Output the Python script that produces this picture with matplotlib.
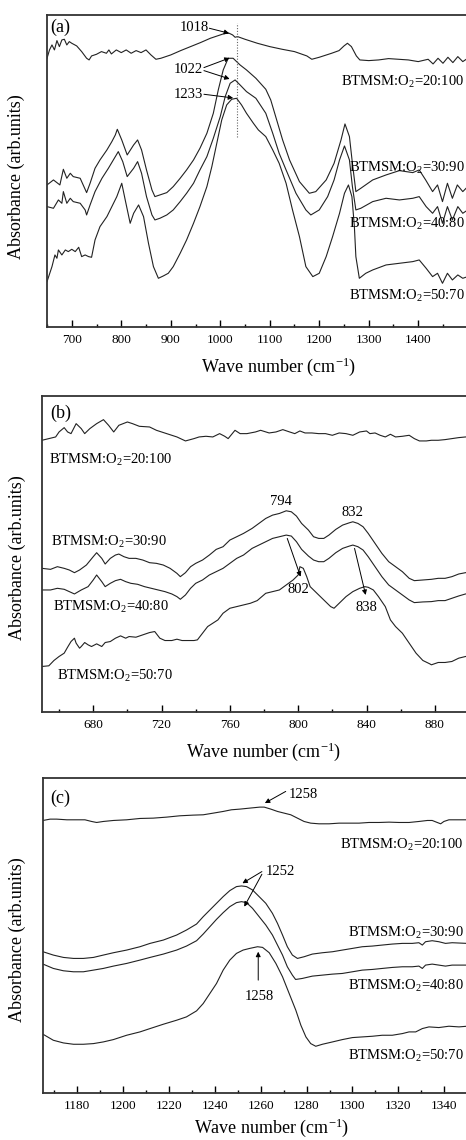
import matplotlib
matplotlib.use("Agg")
import matplotlib.pyplot as plt
from matplotlib.ticker import MultipleLocator

plt.rcParams['font.family'] = ['Liberation Serif', 'DejaVu Serif']
plt.rcParams['mathtext.fontset'] = 'custom'
plt.rcParams['mathtext.rm'] = 'Liberation Serif'
plt.rcParams['mathtext.it'] = 'Liberation Serif:italic'

ratios = ['20:100', '30:90', '40:80', '50:70']

# ---- panel (a): full range, arbitrary absorbance units ----
a_x_20 = [650, 655, 660, 665, 670, 675, 680, 685, 690, 695, 700, 710, 720, 730, 735, 740,
          750, 760, 770, 775, 780, 790, 800, 810, 820, 830, 840, 850, 860, 870, 880, 900,
          920, 940, 960, 980, 1000, 1010, 1018, 1025, 1030, 1035, 1050, 1075, 1100, 1125,
          1150, 1175, 1185, 1200, 1225, 1240, 1250, 1257, 1265, 1275, 1282, 1300, 1320,
          1340, 1360, 1380, 1400, 1420, 1430, 1440, 1450, 1460, 1470, 1480, 1490, 1500]
a_y_20 = [806, 831, 846, 831, 859, 841, 861, 863, 846, 856, 851, 843, 826, 806, 801, 813,
          818, 826, 821, 831, 819, 831, 823, 831, 821, 829, 823, 831, 816, 803, 806, 816,
          829, 841, 853, 866, 876, 881, 881, 876, 869, 871, 863, 851, 841, 833,
          826, 813, 803, 809, 821, 829, 843, 851, 841, 813, 801, 799, 801,
          805, 803, 801, 796, 803, 789, 806, 791, 809, 793, 811, 796, 806]

a_x_30 = [650, 663, 676, 683, 690, 697, 703, 717, 730, 737, 747, 757, 771, 781, 788, 792,
          801, 812, 825, 833, 841, 851, 862, 868, 878, 892, 905, 919, 932, 946, 959, 973,
          986, 996, 1006, 1016, 1026, 1040, 1053, 1072, 1092, 1102, 1112, 1126, 1140, 1160,
          1180, 1193, 1214, 1230, 1244, 1252, 1261, 1267, 1274, 1284, 1308, 1335, 1362,
          1389, 1402, 1415, 1429, 1439, 1449, 1459, 1469, 1479, 1490, 1500]
a_y_30 = [426, 441, 426, 473, 446, 461, 451, 446, 403, 431, 476, 501, 531, 556, 576, 593,
          561, 516, 546, 561, 531, 471, 411, 391, 396, 403, 421, 446, 471, 501, 536, 581,
          641, 711, 771, 806, 806, 786, 771, 746, 713, 681, 631, 561, 501, 436,
          401, 406, 441, 491, 561, 609, 571, 491, 406, 416, 441, 456, 469,
          463, 471, 441, 406, 426, 376, 431, 386, 426, 406, 421]

a_x_40 = [650, 663, 673, 680, 683, 690, 697, 703, 717, 727, 730, 737, 747, 761, 774, 788,
          794, 803, 812, 825, 833, 841, 851, 862, 868, 878, 892, 905, 919, 932, 946, 959,
          973, 986, 1000, 1010, 1020, 1030, 1040, 1053, 1072, 1092, 1106, 1119, 1133, 1153,
          1173, 1183, 1200, 1217, 1230, 1241, 1251, 1261, 1267, 1274, 1284, 1308, 1335,
          1362, 1389, 1402, 1416, 1429, 1439, 1449, 1459, 1469, 1480, 1490, 1500]
a_y_40 = [361, 356, 381, 371, 406, 371, 386, 376, 371, 351, 336, 366, 406, 446, 476, 511,
          526, 496, 451, 476, 496, 461, 391, 336, 321, 326, 336, 351, 376, 401, 431, 471,
          511, 566, 631, 691, 731, 741, 726, 706, 686, 641, 581, 521, 471, 401,
          351, 336, 351, 391, 441, 501, 543, 501, 421, 351, 356, 376, 386,
          381, 386, 391, 361, 341, 361, 311, 361, 321, 361, 341, 351]

a_x_50 = [650, 660, 666, 670, 673, 680, 687, 693, 700, 707, 714, 720, 727, 734, 740, 747,
          757, 771, 781, 791, 801, 808, 818, 825, 835, 845, 855, 865, 875, 885, 895, 905,
          919, 932, 946, 959, 973, 983, 993, 1003, 1013, 1023, 1033, 1043, 1053, 1067,
          1077, 1092, 1106, 1119, 1133, 1146, 1160, 1173, 1187, 1200, 1214, 1227, 1241,
          1251, 1259, 1266, 1271, 1274, 1281, 1294, 1308, 1335, 1362, 1389, 1402, 1416,
          1429, 1439, 1449, 1459, 1469, 1480, 1490, 1500]
a_y_50 = [136, 181, 216, 206, 231, 216, 231, 226, 233, 226, 239, 211, 216, 211, 209, 261,
          301, 331, 361, 391, 431, 381, 311, 341, 366, 331, 251, 181, 146, 153, 161, 181,
          221, 261, 311, 361, 421, 481, 551, 621, 666, 683, 686, 666, 641, 611,
          591, 571, 531, 491, 431, 351, 271, 181, 151, 161, 211, 271, 341,
          401, 426, 391, 301, 211, 146, 161, 171, 186, 191, 196, 201, 176,
          151, 161, 131, 161, 141, 156, 146, 151]

# ---- panel (b): 650-900 ----
b_x_20 = [650, 654, 658, 660, 663, 665, 667, 670, 673, 675, 678, 682, 686, 689, 692, 695,
          700, 703, 707, 713, 717, 723, 729, 734, 739, 742, 746, 750, 754, 757, 759, 763,
          766, 770, 775, 778, 783, 787, 791, 795, 798, 801, 804, 808, 812, 816, 820, 824,
          828, 832, 836, 840, 842, 845, 848, 851, 854, 857, 861, 865, 868, 871, 875, 878,
          882, 886, 890, 894, 898, 900]
b_y_20 = [817, 822, 827, 842, 855, 842, 837, 867, 852, 837, 852, 867, 879, 862, 842, 862,
          872, 867, 859, 857, 847, 837, 827, 815, 822, 827, 829, 827, 837, 829, 822, 847,
          837, 837, 842, 847, 839, 842, 849, 842, 837, 845, 839, 839, 837, 837, 832, 839,
          837, 832, 842, 845, 837, 839, 832, 827, 835, 827, 829, 832, 822, 815, 815, 817,
          817, 819, 822, 825, 827, 827]

b_x_30 = [650, 655, 659, 663, 666, 669, 672, 676, 680, 682, 685, 687, 690, 693, 695, 698,
          701, 705, 709, 713, 717, 721, 725, 729, 731, 734, 737, 740, 744, 748, 752, 756,
          760, 764, 768, 773, 777, 781, 785, 789, 793, 796, 799, 802, 806, 809, 812, 815,
          818, 822, 826, 830, 832, 835, 838, 841, 845, 849, 853, 857, 861, 865, 868, 873,
          878, 882, 886, 890, 894, 898, 900]
b_y_30 = [432, 429, 437, 432, 427, 419, 427, 442, 467, 479, 462, 445, 462, 472, 475, 467,
          462, 462, 457, 449, 447, 442, 432, 417, 407, 419, 437, 447, 457, 472, 489, 497,
          517, 527, 537, 552, 567, 582, 592, 597, 605, 602, 589, 567, 547, 527, 522, 522,
          532, 549, 562, 569, 572, 567, 557, 537, 507, 477, 452, 437, 422, 402, 395, 397,
          399, 402, 402, 407, 415, 419, 420]

b_x_40 = [650, 655, 659, 663, 666, 669, 673, 677, 680, 682, 685, 687, 690, 693, 696, 699,
          702, 706, 710, 714, 718, 722, 726, 729, 731, 734, 737, 740, 744, 748, 752, 756,
          760, 764, 768, 773, 777, 781, 785, 789, 793, 796, 799, 802, 806, 809, 812, 815,
          818, 822, 826, 830, 832, 835, 838, 841, 845, 849, 853, 857, 861, 865, 868, 873,
          878, 882, 886, 890, 894, 898, 900]
b_y_40 = [367, 367, 372, 369, 362, 355, 367, 377, 397, 412, 392, 377, 387, 395, 399, 392,
          387, 384, 377, 372, 367, 362, 355, 347, 339, 352, 372, 387, 397, 412, 422, 432,
          447, 462, 472, 492, 502, 512, 522, 527, 532, 529, 512, 489, 469, 457, 452, 452,
          462, 479, 492, 499, 502, 497, 487, 467, 437, 407, 382, 367, 352, 337, 329, 331,
          332, 335, 335, 342, 349, 355, 356]

b_x_50 = [650, 654, 657, 660, 663, 665, 667, 669, 670, 672, 673, 675, 677, 679, 682, 685,
          687, 690, 693, 696, 699, 701, 705, 709, 713, 716, 719, 722, 726, 729, 732, 735,
          739, 741, 744, 747, 750, 753, 756, 760, 764, 768, 772, 776, 781, 785, 789, 793,
          797, 800, 801, 803, 805, 807, 809, 812, 816, 819, 821, 824, 828, 832, 836, 839,
          841, 844, 847, 851, 854, 857, 861, 865, 869, 873, 877, 878, 882, 886, 890, 894,
          898, 900]
b_y_50 = [137, 139, 155, 167, 177, 195, 212, 222, 207, 192, 197, 209, 202, 197, 205, 197,
          209, 212, 222, 229, 222, 227, 225, 232, 239, 242, 222, 215, 215, 219, 215, 215,
          215, 217, 237, 257, 267, 277, 297, 312, 317, 322, 327, 335, 357, 362, 367, 382,
          397, 412, 437, 432, 407, 377, 367, 352, 332, 317, 312, 327, 347, 362, 372, 377,
          375, 367, 347, 317, 277, 257, 237, 207, 177, 155, 145, 142, 149, 149, 152, 162,
          167, 168]

# ---- panel (c): 1165-1350 ----
c_x_20 = [1165, 1168.1, 1171, 1175.4, 1179.7, 1183.3, 1186.2, 1188.4, 1191.3, 1195.7,
          1201.5, 1207.3, 1213.1, 1218.9, 1224.7, 1230.5, 1234.9, 1239.3, 1243.6, 1247.2,
          1250.9, 1255.2, 1259.6, 1261.5, 1264.4, 1267.3, 1270.2, 1273.1, 1276, 1278.9,
          1281.8, 1285.4, 1289.8, 1294.2, 1298.5, 1302.9, 1307.2, 1311.6, 1316, 1320.3,
          1324.7, 1329, 1332.7, 1334.8, 1337, 1338.5, 1339.9, 1342.1, 1345, 1350]
c_y_20 = [816, 820, 820, 818, 818, 818, 813, 810, 813, 816,
          818, 822, 823, 826, 830, 832, 833, 838, 843, 848,
          850, 853, 856, 856, 850, 843, 838, 833, 823, 813,
          808, 806, 806, 808, 808, 808, 810, 810, 811, 810,
          810, 813, 816, 816, 810, 806, 813, 818, 818, 818]

c_x_30 = [1165, 1169.5, 1173.9, 1178.3, 1182.6, 1187, 1191.3, 1195.7, 1201.5, 1207.3,
          1211.7, 1217.5, 1223.3, 1227.6, 1232, 1234.9, 1237.8, 1240.7, 1243.6, 1246.5,
          1249.4, 1251.6, 1253.8, 1256.4, 1259.3, 1262.2, 1265.1, 1267.3, 1269.5, 1271.6,
          1273.8, 1276, 1278.9, 1282.5, 1286.9, 1291.3, 1295.6, 1300, 1304.3, 1308.7,
          1313, 1317.4, 1321.8, 1326.1, 1329, 1330.5, 1331.9, 1334.8, 1337.7, 1340.6,
          1343.5, 1350]
c_y_30 = [423, 413, 406, 403, 403, 406, 413, 420, 428, 438,
          448, 458, 473, 488, 506, 528, 548, 568, 588, 606,
          618, 620, 618, 608, 588, 568, 538, 508, 473, 438,
          413, 403, 408, 416, 420, 423, 428, 433, 438, 440,
          443, 446, 448, 448, 450, 443, 453, 456, 453, 448,
          450, 448]

c_x_40 = [1165, 1169.5, 1173.9, 1178.3, 1182.6, 1187, 1191.3, 1195.7, 1201.5, 1207.3,
          1211.7, 1217.5, 1223.3, 1227.6, 1232, 1234.9, 1237.8, 1240.7, 1243.6, 1246.5,
          1249.4, 1251.6, 1253.8, 1256.4, 1259.3, 1262.2, 1265.1, 1267.3, 1269.5, 1271.6,
          1273.8, 1275.2, 1278.1, 1282.5, 1286.9, 1291.3, 1295.6, 1300, 1304.3, 1308.7,
          1313, 1317.4, 1321.8, 1326.1, 1329, 1330.5, 1331.9, 1334.8, 1337.7, 1340.6,
          1343.5, 1350]
c_y_40 = [386, 373, 366, 363, 363, 368, 373, 380, 388, 398,
          406, 416, 428, 440, 456, 476, 498, 520, 540, 558,
          570, 573, 570, 553, 528, 503, 473, 443, 413, 378,
          353, 340, 343, 350, 353, 356, 358, 363, 368, 370,
          373, 376, 378, 378, 380, 373, 383, 386, 383, 380,
          383, 383]

c_x_50 = [1165, 1169.5, 1173.9, 1178.3, 1182.6, 1187, 1191.3, 1195.7, 1201.5, 1207.3,
          1211.7, 1217.5, 1223.3, 1227.6, 1232, 1234.9, 1237.8, 1240.7, 1243.6, 1246.5,
          1249.4, 1252.3, 1255.2, 1258.6, 1260.8, 1263.7, 1266.6, 1269.5, 1272.4, 1275.3,
          1277.5, 1279.7, 1281.8, 1284, 1286.9, 1291.3, 1295.6, 1300, 1304.3, 1308.7,
          1313, 1317.4, 1321.8, 1324.7, 1327.6, 1330.5, 1333.4, 1337.7, 1342.1, 1346.5,
          1350]
c_y_50 = [176, 158, 150, 146, 146, 148, 153, 160, 173, 183,
          193, 206, 218, 228, 246, 268, 298, 328, 368, 398,
          418, 428, 433, 438, 436, 420, 388, 348, 298, 248,
          203, 168, 148, 140, 146, 153, 160, 166, 168, 170,
          173, 173, 178, 183, 183, 193, 198, 196, 200, 198,
          200]

LINE = dict(color='#222222', lw=0.8)
ARROW = dict(arrowstyle='-|>', color='k', lw=0.7, mutation_scale=7, shrinkA=0, shrinkB=0)
LBL = 10.5


def label(r):
    return 'BTMSM:O$_2$=' + r


def style(ax, xlim, ylim, ticks, minor, lx, ly, xlx, xly):
    ax.set_xlim(*xlim)
    ax.set_ylim(*ylim)
    ax.set_yticks([])
    ax.set_xticks(ticks)
    ax.xaxis.set_minor_locator(MultipleLocator(minor))
    ax.tick_params(axis='x', which='both', direction='in', top=False,
                   labelsize=9.5, pad=5, width=1)
    ax.tick_params(axis='x', which='major', length=4.8)
    ax.tick_params(axis='x', which='minor', length=2.4)
    for s in ax.spines.values():
        s.set_linewidth(1.3)
        s.set_color('#333333')
    ax.spines['right'].set_visible(False)
    ax.set_xlabel('Wave number (cm$^{-1}$)', fontsize=13)
    ax.set_ylabel('Absorbance (arb.units)', fontsize=13)
    ax.xaxis.set_label_coords(xlx, xly)
    ax.yaxis.set_label_coords(lx, ly)


fig = plt.figure(figsize=(4.66, 11.4), dpi=100)
ax1 = fig.add_axes([0.1009, 0.7132, 0.9028, 0.2737])
ax2 = fig.add_axes([0.0901, 0.3754, 0.9163, 0.2772])
ax3 = fig.add_axes([0.0923, 0.0412, 0.9099, 0.2763])

# (a)
for xs, ys in [(a_x_20, a_y_20), (a_x_30, a_y_30), (a_x_40, a_y_40), (a_x_50, a_y_50)]:
    ax1.plot(xs, ys, **LINE)
style(ax1, (650, 1500), (0, 936), list(range(700, 1401, 100)), 50,
      -0.052, 0.481, 0.551, -0.09)
ax1.text(656, 899, '(a)', ha='left', va='center', fontsize=13)
ax1.plot([1033, 1033], [571, 913], color='#666666', lw=0.8, ls=(0, (1, 1.5)))
ax1.text(947, 899, '1018', ha='center', va='center', fontsize=LBL)
ax1.annotate('', xy=(1018, 881), xytext=(978, 896), arrowprops=ARROW)
ax1.text(936, 773, '1022', ha='center', va='center', fontsize=LBL)
ax1.annotate('', xy=(1019, 807), xytext=(967, 778), arrowprops=ARROW)
ax1.annotate('', xy=(1019, 744), xytext=(967, 769), arrowprops=ARROW)
ax1.text(936, 698, '1233', ha='center', va='center', fontsize=LBL)
ax1.annotate('', xy=(1026, 687), xytext=(967, 698), arrowprops=ARROW)
for r, y in zip(ratios, [736, 476, 309, 93]):
    ax1.text(1494, y, label(r), ha='right', va='center', fontsize=LBL)

# (b)
for xs, ys in [(b_x_20, b_y_20), (b_x_30, b_y_30), (b_x_40, b_y_40), (b_x_50, b_y_50)]:
    ax2.plot(xs, ys, **LINE)
style(ax2, (650, 900), (0, 950), list(range(680, 881, 40)), 20,
      -0.037, 0.489, 0.518, -0.09)
ax2.text(654.7, 897, '(b)', ha='left', va='center', fontsize=13)
for r, x, y in zip(ratios, [654.3, 655.2, 656.6, 659], [757, 512, 315, 109]):
    ax2.text(x, y, label(r), ha='left', va='center', fontsize=LBL)
ax2.text(790, 632, '794', ha='center', va='center', fontsize=LBL)
ax2.text(832, 599, '832', ha='center', va='center', fontsize=LBL)
ax2.text(800, 367, '802', ha='center', va='center', fontsize=LBL)
ax2.text(840, 314, '838', ha='center', va='center', fontsize=LBL)
ax2.annotate('', xy=(801.4, 407), xytext=(793.6, 522), arrowprops=ARROW)
ax2.annotate('', xy=(839.5, 352), xytext=(833, 492), arrowprops=ARROW)

# (c)
for xs, ys in [(c_x_20, c_y_20), (c_x_30, c_y_30), (c_x_40, c_y_40), (c_x_50, c_y_50)]:
    ax3.plot(xs, ys, **LINE)
style(ax3, (1165, 1350), (0, 943), list(range(1180, 1341, 20)), 10,
      -0.040, 0.486, 0.54, -0.075)
ax3.text(1168, 883, '(c)', ha='left', va='center', fontsize=13)
ax3.text(1272, 893, '1258', ha='left', va='center', fontsize=LBL)
ax3.annotate('', xy=(1261.8, 868), xytext=(1270.9, 903), arrowprops=ARROW)
ax3.text(1262, 663, '1252', ha='left', va='center', fontsize=LBL)
ax3.annotate('', xy=(1252, 628), xytext=(1260.5, 663), arrowprops=ARROW)
ax3.annotate('', xy=(1252.8, 558), xytext=(1260.5, 655), arrowprops=ARROW)
ax3.text(1259.3, 288, '1258', ha='center', va='center', fontsize=LBL)
ax3.annotate('', xy=(1258.9, 423), xytext=(1258.9, 338), arrowprops=ARROW)
for r, y in zip(ratios, [743, 480, 321, 111]):
    ax3.text(1348.5, y, label(r), ha='right', va='center', fontsize=LBL)

fig.savefig('out.png', dpi=100)
